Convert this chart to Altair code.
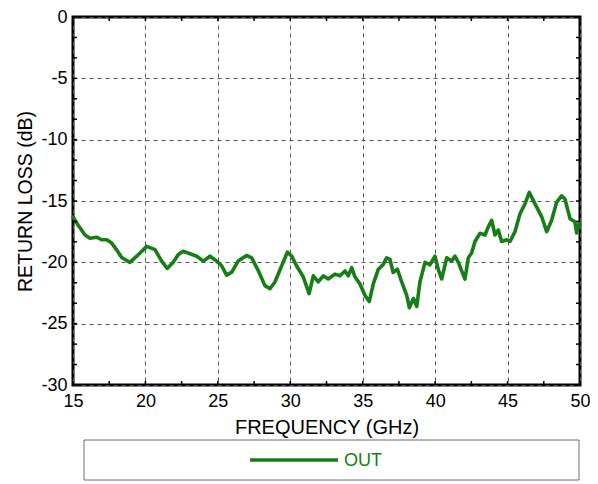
import altair as alt
import pandas as pd

# ---- data ----
freq = [15.0, 15.37, 15.83, 16.17, 16.63, 16.98, 17.33, 17.67, 18.0, 18.36, 18.93, 19.4,
        20.09, 20.66, 21.12, 21.5, 21.92, 22.27, 22.6, 23.08, 23.54, 24.0, 24.46, 24.92,
        25.27, 25.6, 25.96, 26.4, 26.99, 27.33, 27.8, 28.25, 28.6, 28.94, 29.4, 29.8,
        30.1, 30.44, 30.9, 31.3, 31.59, 31.93, 32.28, 32.62, 33.08, 33.43, 33.78, 34.0,
        34.24, 34.47, 34.81, 35.16, 35.45, 35.73, 36.08, 36.42, 36.65, 36.88, 37.1, 37.39,
        37.69, 38.04, 38.22, 38.5, 38.73, 38.95, 39.3, 39.64, 39.99, 40.22, 40.45, 40.8,
        41.14, 41.37, 41.6, 41.83, 42.06, 42.29, 42.52, 42.75, 43.1, 43.44, 43.67, 43.9,
        44.13, 44.36, 44.59, 44.94, 45.17, 45.51, 45.86, 46.2, 46.5, 46.78, 47.01, 47.36,
        47.7, 48.04, 48.39, 48.73, 48.96, 49.31, 49.65, 49.77, 49.95]
rl = [-16.3, -17.0, -17.77, -18.03, -17.95, -18.16, -18.16, -18.43, -18.96, -19.6, -20.0, -19.5,
      -18.7, -18.97, -19.9, -20.5, -20.0, -19.36, -19.1, -19.3, -19.5, -19.9, -19.5, -19.9,
      -20.3, -21.04, -20.8, -19.9, -19.44, -19.63, -20.7, -21.9, -22.15, -21.6, -20.3, -19.17,
      -19.5, -20.3, -21.2, -22.55, -21.1, -21.6, -21.1, -21.36, -20.96, -21.1, -20.7, -21.1,
      -20.43, -21.2, -21.76, -22.7, -23.2, -21.76, -20.56, -20.17, -19.63, -19.76, -20.83, -20.56,
      -21.6, -22.7, -23.7, -22.95, -23.6, -21.6, -20.0, -20.2, -19.5, -20.6, -21.36, -19.63,
      -19.9, -19.5, -20.0, -20.7, -21.36, -19.63, -19.23, -18.3, -17.63, -17.77, -17.1, -16.57,
      -17.77, -17.36, -18.3, -18.16, -18.3, -17.5, -16.04, -15.24, -14.3, -14.97, -15.5, -16.3,
      -17.5, -16.57, -15.1, -14.58, -14.84, -16.44, -16.7, -17.6, -16.8]
series_name = ["OUT"]

x_ticks = [15, 20, 25, 30, 35, 40, 45, 50]
y_ticks = [-30, -25, -20, -15, -10, -5, 0]
x_minor = [15, 17.5, 20, 22.5, 25, 27.5, 30, 32.5, 35, 37.5, 40, 42.5, 45, 47.5, 50]
y_minor = [0, -1.667, -3.333, -5, -6.667, -8.333, -10, -11.667, -13.333, -15, -16.667,
           -18.333, -20, -21.667, -23.333, -25, -26.667, -28.333, -30]

# ---- style ----
W, H = 507, 368
GREEN = "#177d17"
FONT = "Liberation Sans"
TL = 4  # inward tick length

df = pd.DataFrame({"freq": freq, "rl": rl, "series": series_name * len(freq)})
xt = pd.DataFrame({"freq": x_minor})
yt = pd.DataFrame({"rl": y_minor})
leg = pd.DataFrame({"series": series_name})

xscale = alt.Scale(domain=[15, 50], nice=False, zero=False)
yscale = alt.Scale(domain=[-30, 0], nice=False, zero=False)

grid_common = dict(grid=True, gridDash=[4, 4], gridColor="#555555", gridWidth=1,
                   domain=False, ticks=False, labelFont=FONT, labelFontSize=18,
                   labelColor="black", labelFlush=False, labelOverlap=False,
                   labelExpr="datum.value + ''",
                   titleFont=FONT, titleFontWeight="normal", titleColor="black")

x_axis = alt.Axis(values=x_ticks, title="FREQUENCY (GHz)", labelPadding=7,
                  titlePadding=7, titleFontSize=20, **grid_common)
y_axis = alt.Axis(values=y_ticks, title="RETURN LOSS (dB)", labelPadding=6,
                  titlePadding=5, titleFontSize=19.5, **grid_common)

line = alt.Chart(df).mark_line(color=GREEN, strokeWidth=3.6, strokeJoin="round",
                               strokeCap="round").encode(
    x=alt.X("freq:Q", scale=xscale, axis=x_axis),
    y=alt.Y("rl:Q", scale=yscale, axis=y_axis),
)

tick_style = dict(color="black", strokeWidth=1.5)
bottom_ticks = alt.Chart(xt).mark_rule(**tick_style).encode(
    x=alt.X("freq:Q", scale=xscale, axis=x_axis), y=alt.value(H), y2=alt.value(H - TL))
top_ticks = alt.Chart(xt).mark_rule(**tick_style).encode(
    x=alt.X("freq:Q", scale=xscale, axis=x_axis), y=alt.value(0), y2=alt.value(TL))
left_ticks = alt.Chart(yt).mark_rule(**tick_style).encode(
    y=alt.Y("rl:Q", scale=yscale, axis=y_axis), x=alt.value(0), x2=alt.value(TL))
right_ticks = alt.Chart(yt).mark_rule(**tick_style).encode(
    y=alt.Y("rl:Q", scale=yscale, axis=y_axis), x=alt.value(W), x2=alt.value(W - TL))

# legend box below the plot
leg_box = alt.Chart(leg).mark_rect(fill="white", stroke="#6e6e6e", strokeWidth=1).encode(
    x=alt.value(11), x2=alt.value(506), y=alt.value(423), y2=alt.value(463))
leg_line = alt.Chart(leg).mark_rule(color=GREEN, strokeWidth=3.5).encode(
    x=alt.value(177), x2=alt.value(265), y=alt.value(443))
leg_text = alt.Chart(leg).mark_text(color=GREEN, font=FONT, fontSize=18, align="left",
                                    baseline="middle").encode(
    x=alt.value(271), y=alt.value(444), text="series:N")

chart = alt.layer(
    line, bottom_ticks, top_ticks, left_ticks, right_ticks, leg_box, leg_line, leg_text
).properties(
    width=W, height=H,
    padding={"left": 65, "top": 9, "right": 10, "bottom": 100},
    autosize=alt.AutoSizeParams(type="none"),
    background="white",
).configure_view(
    stroke="black", strokeWidth=3
)

chart.save("out.html", embed_options={"renderer": "svg", "actions": False})
